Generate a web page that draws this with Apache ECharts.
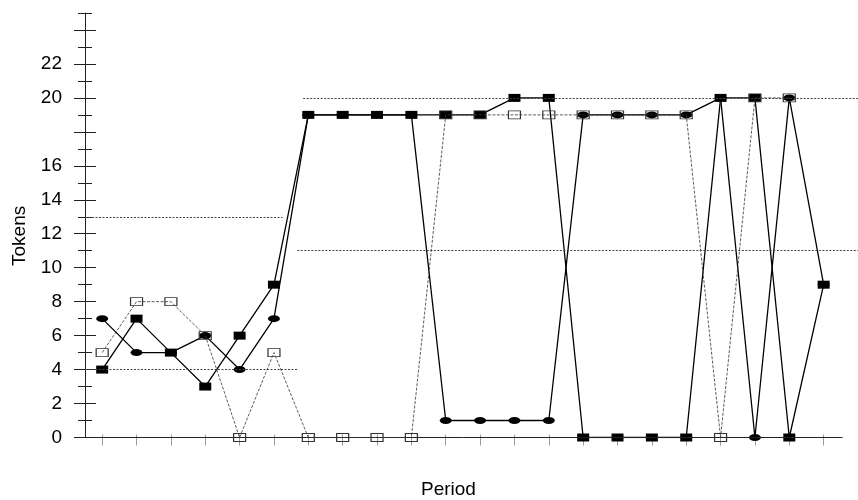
<!DOCTYPE html>
<html>
<head>
<meta charset="utf-8">
<script src="https://cdn.jsdelivr.net/npm/echarts@6/dist/echarts.min.js"></script>
<style>
  html, body { margin: 0; padding: 0; background: #fff; }
  #chart { width: 858px; height: 500px; }
</style>
</head>
<body>
<div id="chart"></div>
<script>
// Periods of play
const periods = [1, 2, 3, 4, 5, 6, 7, 8, 9, 10, 11, 12, 13, 14, 15, 16, 17, 18, 19, 20, 21, 22];

// Tokens chosen each period (filled square, filled circle, open square)
const tokensSquare = [4, 7, 5, 3, 6, 9, 19, 19, 19, 19, 19, 19, 20, 20, 0, 0, 0, 0, 20, 20, 0, 9];
const tokensCircle = [7, 5, 5, 6, 4, 7, 19, 19, 19, 19, 1, 1, 1, 1, 19, 19, 19, 19, 20, 0, 20, 9];
const tokensOpen   = [5, 8, 8, 6, 0, 5, 0, 0, 0, 0, 19, 19, 19, 19, 19, 19, 19, 19, 0, 20, 20, null];

// Benchmark levels (dotted), with the period span each one covers
const refLevels = [13, 4, 20, 11];
const refFrom   = [0.5, 0.5, 6.85, 6.68];
const refTo     = [6.25, 6.72, 23, 23];

// Y tick values
const yLabelValues = [0, 2, 4, 6, 8, 10, 12, 14, 16, 20, 22];
const yMajorTicks  = [0, 2, 4, 6, 8, 10, 12, 14, 16, 18, 20, 22, 24];
const yMinorTicks  = [1, 3, 5, 7, 9, 11, 13, 15, 17, 19, 21, 23, 25];

const xMin = 0.5, xMax = 23, xAxisEnd = 22.55;
const yMin = 0, yMax = 25;

const pairs = arr => periods.map((p, i) => [p, arr[i]]);

const FONT = '"Liberation Sans", Arial, sans-serif';
const ellipsePath = 'path://M0,1A1,1,0,1,1,2,1A1,1,0,1,1,0,1Z';

const refLineData = refLevels.map((lv, i) => [
  { coord: [refFrom[i], lv] },
  { coord: [refTo[i], lv] }
]);

const chart = echarts.init(document.getElementById('chart'), null, { renderer: 'canvas' });

// Tick-only helper axes so ticks cross the y axis line
const hiddenY = (offset, ticks, len) => ({
  type: 'value', min: yMin, max: yMax, position: 'left', offset: offset,
  axisLine: { show: false },
  axisLabel: { show: false },
  splitLine: { show: false },
  axisTick: { show: true, customValues: ticks, length: len, lineStyle: { color: '#222', width: 1 } }
});

chart.setOption({
  animation: false,
  backgroundColor: '#fff',
  grid: { left: 85, right: 0, top: 13, bottom: 62.5, containLabel: false },
  xAxis: [{
    type: 'value', min: xMin, max: xMax, offset: -3,
    axisLine: { show: false },
    axisLabel: { show: false },
    splitLine: { show: false },
    axisTick: { show: true, customValues: periods, length: 11, lineStyle: { color: '#999', width: 1 } }
  }],
  yAxis: [
    {
      type: 'value', min: yMin, max: yMax, position: 'left',
      axisLine: { show: true, lineStyle: { color: '#222', width: 1 } },
      axisTick: { show: false },
      splitLine: { show: false },
      axisLabel: {
        show: true, customValues: yLabelValues, margin: 23,
        color: '#000', fontFamily: FONT, fontSize: 19
      }
    },
    hiddenY(-11, yMajorTicks, 22),
    hiddenY(-7, yMinorTicks, 14)
  ],
  graphic: [
    {
      type: 'text', left: 421, top: 480,
      style: { text: 'Period', fill: '#000', font: '19px ' + FONT }
    },
    {
      type: 'text', x: 10, y: 266, rotation: Math.PI / 2,
      style: { text: 'Tokens', fill: '#000', font: '19px ' + FONT }
    }
  ],
  series: [
    {
      name: 'Circle', type: 'line', data: pairs(tokensCircle),
      symbol: ellipsePath, symbolSize: [12, 7],
      itemStyle: { color: '#000' },
      lineStyle: { color: '#000', width: 1.3 },
      z: 3,
      markLine: {
        silent: true, symbol: 'none', label: { show: false },
        lineStyle: { color: '#222', width: 1, type: 'solid' },
        data: [[{ coord: [xMin, 0] }, { coord: [xAxisEnd, 0] }]]
      }
    },
    {
      name: 'Square', type: 'line', data: pairs(tokensSquare),
      symbol: 'rect', symbolSize: [12, 8],
      itemStyle: { color: '#000' },
      lineStyle: { color: '#000', width: 1.3 },
      z: 4,
      markLine: {
        silent: true, symbol: 'none', label: { show: false },
        lineStyle: { color: '#444', width: 1, type: [2, 1.5] },
        data: refLineData
      }
    },
    {
      name: 'Open', type: 'line', data: pairs(tokensOpen),
      symbol: 'rect', symbolSize: [12, 8],
      itemStyle: { color: 'rgba(0,0,0,0)', borderColor: '#333', borderWidth: 1 },
      lineStyle: { color: '#333', width: 0.8, type: [3, 1.5] },
      z: 5
    }
  ]
});
</script>
</body>
</html>
